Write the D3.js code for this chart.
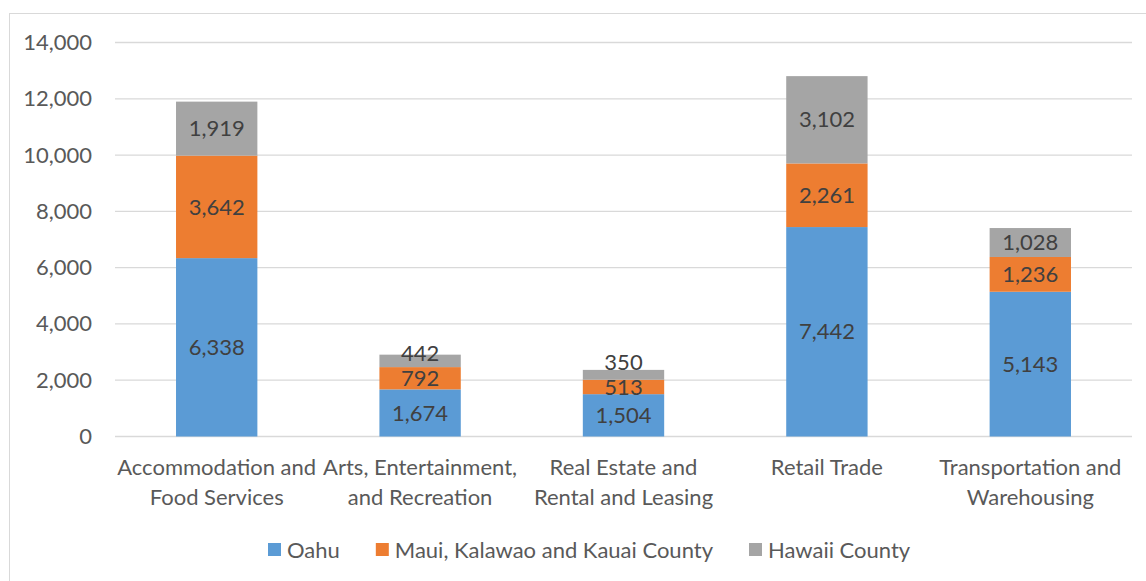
<!DOCTYPE html>
<html>
<head>
<meta charset="utf-8">
<script src="https://cdn.jsdelivr.net/npm/d3@7"></script>
<style>
  body { margin: 0; background: #fff; }
  svg { display: block; font-family: Lato, "Open Sans", sans-serif; }
</style>
</head>
<body>
<svg width="1146" height="581"></svg>
<script>
var categories = [
    ["Accommodation and", "Food Services"],
    ["Arts, Entertainment,", "and Recreation"],
    ["Real Estate and", "Rental and Leasing"],
    ["Retail Trade"],
    ["Transportation and", "Warehousing"]
];
var seriesNames = ["Oahu", "Maui, Kalawao and Kauai County", "Hawaii County"];
var oahu = [6338, 1674, 1504, 7442, 5143];
var maui = [3642, 792, 513, 2261, 1236];
var hawaii = [1919, 442, 350, 3102, 1028];
var yTicks = [0, 2000, 4000, 6000, 8000, 10000, 12000, 14000];
var colors = ["#5b9bd5", "#ed7d31", "#a5a5a5"];

var margin = { top: 42.5, left: 115, right: 14 };
var plotBottom = 436.5;
var w = 1146 - margin.left - margin.right;
var fontSize = "22px";

var rows = categories.map(function(c, i) {
    return { idx: i, s0: oahu[i], s1: maui[i], s2: hawaii[i] };
});
var stack = d3.stack().keys(["s0", "s1", "s2"]);
var stacked = stack(rows);

var svg = d3.select("svg");

// chart border
svg.append("rect")
    .attr("x", 9.5).attr("y", 13.5)
    .attr("width", 1200).attr("height", 700)
    .attr("fill", "none")
    .attr("stroke", "#d9d9d9");

var g = svg.append("g");

var xScale = d3.scaleBand()
    .domain(d3.range(categories.length))
    .range([margin.left, margin.left + w])
    .paddingInner(0.6)
    .paddingOuter(0.3);

var yScale = d3.scaleLinear()
    .domain([0, 14000])
    .range([plotBottom, margin.top]);

// gridlines
g.selectAll("line.grid")
    .data(yTicks)
    .enter().append("line")
    .attr("class", "grid")
    .attr("x1", margin.left).attr("x2", margin.left + w)
    .attr("y1", function(d) { return yScale(d); })
    .attr("y2", function(d) { return yScale(d); })
    .attr("stroke", "#d9d9d9")
    .attr("stroke-width", 1.3);

// y axis labels
var yAxis = d3.axisLeft(yScale)
    .tickValues(yTicks)
    .tickFormat(d3.format(","))
    .tickSize(0)
    .tickPadding(0);
var yg = g.append("g")
    .attr("transform", "translate(92,0)")
    .call(yAxis);
yg.select(".domain").remove();
yg.selectAll("text")
    .attr("fill", "#595959")
    .style("font-size", fontSize)
    .style("font-family", "Lato, 'Open Sans', sans-serif");

// bars
var layers = g.selectAll("g.layer")
    .data(stacked)
    .enter().append("g")
    .attr("class", "layer")
    .attr("fill", function(d, i) { return colors[i]; });

layers.selectAll("rect")
    .data(function(d) { return d; })
    .enter().append("rect")
    .attr("x", function(d) { return xScale(d.data.idx); })
    .attr("y", function(d) { return yScale(d[1]); })
    .attr("height", function(d) { return yScale(d[0]) - yScale(d[1]); })
    .attr("width", xScale.bandwidth());

// data labels, pushed up when they would collide (like Excel does)
var minGap = 25;
var labelY = {};
stacked.forEach(function(layer, li) {
    layer.forEach(function(d, ci) {
        var y = (yScale(d[0]) + yScale(d[1])) / 2;
        if (li > 0 && labelY[(li - 1) + "_" + ci] - y < minGap) {
            y = labelY[(li - 1) + "_" + ci] - minGap;
        }
        labelY[li + "_" + ci] = y;
    });
});

layers.each(function(layer, li) {
    d3.select(this).selectAll("text")
        .data(layer)
        .enter().append("text")
        .attr("x", function(d) { return xScale(d.data.idx) + xScale.bandwidth() / 2; })
        .attr("y", function(d, ci) { return labelY[li + "_" + ci]; })
        .attr("dy", "0.35em")
        .attr("text-anchor", "middle")
        .attr("fill", "#404040")
        .style("font-size", fontSize)
        .text(function(d) { return d3.format(",")(d[1] - d[0]); });
});

// x axis category labels
var xl = g.selectAll("text.xlabel")
    .data(categories)
    .enter().append("text")
    .attr("class", "xlabel")
    .attr("x", function(d, i) { return xScale(i) + xScale.bandwidth() / 2; })
    .attr("y", 475)
    .attr("text-anchor", "middle")
    .attr("fill", "#595959")
    .style("font-size", fontSize);
xl.selectAll("tspan")
    .data(function(d) { return d; })
    .enter().append("tspan")
    .attr("x", function() { return this.parentNode.getAttribute("x"); })
    .attr("dy", function(d, i) { return i === 0 ? 0 : 30; })
    .text(function(d) { return d; });

// legend
var legend = svg.append("g");
var lx = 268;
seriesNames.forEach(function(name, i) {
    legend.append("rect")
        .attr("x", lx).attr("y", 543)
        .attr("width", 13).attr("height", 13)
        .attr("fill", colors[i]);
    var t = legend.append("text")
        .attr("x", lx + 19).attr("y", 550)
        .attr("dy", "0.35em")
        .attr("fill", "#595959")
        .style("font-size", fontSize)
        .text(name);
    lx += 19 + t.node().getComputedTextLength() + 36;
});
</script>
</body>
</html>
